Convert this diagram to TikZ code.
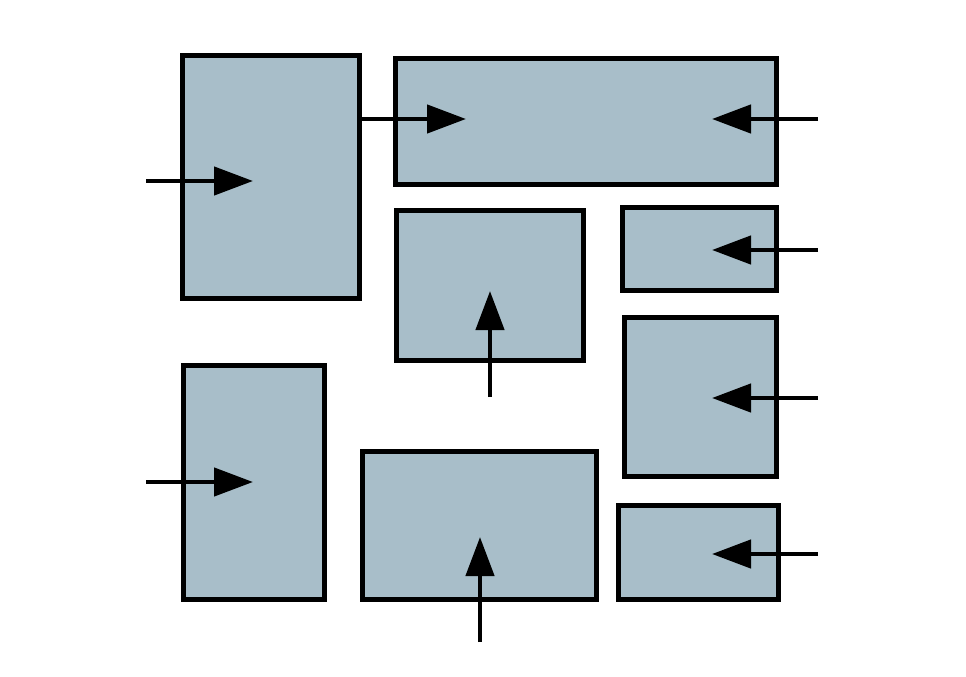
\documentclass[tikz,border=0pt]{standalone}
\usetikzlibrary{arrows.meta}
\definecolor{boxfill}{HTML}{A8BEC9}
\tikzset{
  box/.style={draw=black, fill=boxfill, line width=5pt, inner sep=0pt, outer sep=0pt, rectangle},
  arr/.style={line width=4.5pt, -{Triangle[length=39pt,width=28pt]}},
}
\begin{document}
\begin{tikzpicture}[x=1pt,y=-1pt]
\useasboundingbox (0,0) rectangle (966,677);
\node[box, minimum width=177pt, minimum height=242pt] (b1) at (270.5,177) {};
\node[box, minimum width=381pt, minimum height=125pt] (b2) at (585.5,121.5) {};
\node[box, minimum width=187pt, minimum height=150pt] (b3) at (489.5,285) {};
\node[box, minimum width=154pt, minimum height=83pt] (b4) at (699,248.5) {};
\node[box, minimum width=152pt, minimum height=159pt] (b5) at (700,396.5) {};
\node[box, minimum width=141pt, minimum height=234pt] (b6) at (253.5,482) {};
\node[box, minimum width=234pt, minimum height=148pt] (b7) at (479,525) {};
\node[box, minimum width=160pt, minimum height=94pt] (b8) at (698,552) {};
% tips and tails
\coordinate (t1) at (253,181);
\coordinate (s1) at (146,181);
\coordinate (t2) at (466,119);
\coordinate (t2r) at (712,119);
\coordinate (s2r) at (818,119);
\coordinate (t3) at (490,291);
\coordinate (s3) at (490,397);
\coordinate (t4) at (712,250);
\coordinate (s4) at (818,250);
\coordinate (t5) at (712,398);
\coordinate (s5) at (818,398);
\coordinate (t6) at (253,482);
\coordinate (s6) at (146,482);
\coordinate (t7) at (480,537);
\coordinate (s7) at (480,642);
\coordinate (t8) at (712,554);
\coordinate (s8) at (818,554);
\draw[arr] (s1) -- (t1);
\draw[arr] (b1.east |- t2) -- (t2);
\draw[arr] (s2r) -- (t2r);
\draw[arr] (s3) -- (t3);
\draw[arr] (s4) -- (t4);
\draw[arr] (s5) -- (t5);
\draw[arr] (s6) -- (t6);
\draw[arr] (s7) -- (t7);
\draw[arr] (s8) -- (t8);
\end{tikzpicture}
\end{document}
